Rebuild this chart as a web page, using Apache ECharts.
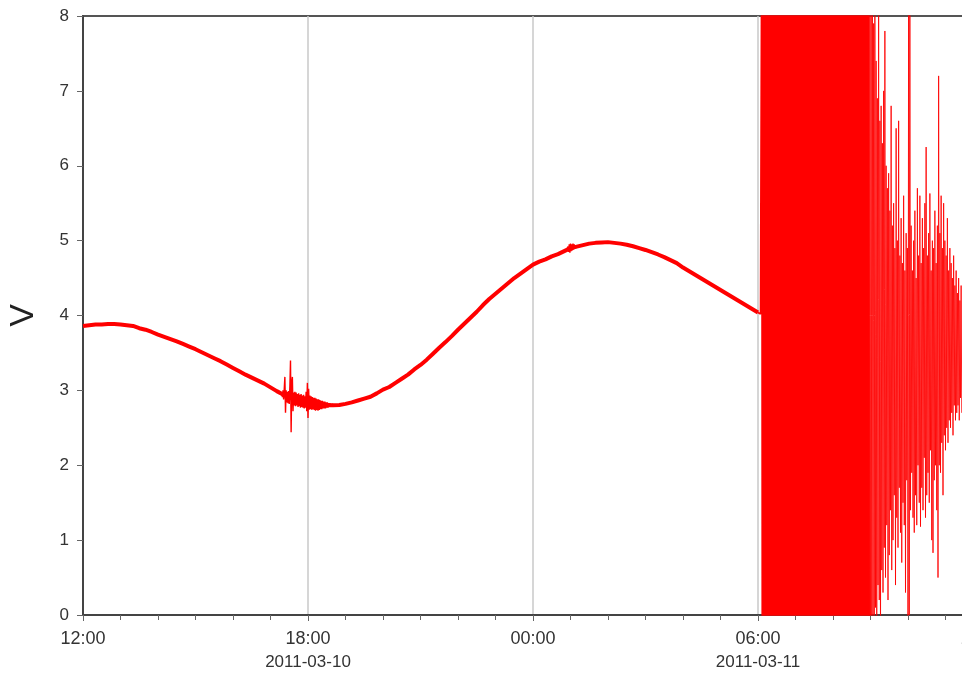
<!DOCTYPE html>
<html>
<head>
<meta charset="utf-8">
<script src="https://cdn.jsdelivr.net/npm/echarts@6/dist/echarts.min.js"></script>
<style>
html,body{margin:0;padding:0;background:#fff;}
#chart{width:962px;height:675px;}
</style>
</head>
<body>
<div id="chart"></div>
<script>
// x values are minutes since 2011-03-10 12:00
const tickTimes = ['12:00', '18:00', '00:00', '06:00', '12:00'];
const tickDates = ['', '2011-03-10', '', '2011-03-11', ''];

// slow (tidal-like) signal, one value every 10 minutes from 12:00
const smoothStart = 0, smoothStep = 10;
const smoothValues = [
  3.86, 3.87, 3.88, 3.88, 3.885, 3.885, 3.88, 3.87, 3.86, 3.83,
  3.81, 3.78, 3.745, 3.715, 3.685, 3.655, 3.62, 3.585, 3.55, 3.51,
  3.47, 3.43, 3.39, 3.345, 3.30, 3.255, 3.21, 3.17, 3.13, 3.09,
  3.04, 2.99, 2.945, 2.90, 2.885, 2.865, 2.85, 2.83, 2.815, 2.80,
  2.80, 2.805, 2.82, 2.84, 2.865, 2.89, 2.915, 2.96, 3.01, 3.045,
  3.10, 3.155, 3.21, 3.28, 3.34, 3.41, 3.49, 3.57, 3.645, 3.725,
  3.81, 3.89, 3.97, 4.05, 4.14, 4.22, 4.29, 4.36, 4.43, 4.50,
  4.56, 4.62, 4.68, 4.72, 4.75, 4.79, 4.82, 4.86, 4.90, 4.92,
  4.94, 4.96, 4.97, 4.975, 4.98, 4.97, 4.96, 4.945, 4.925, 4.90,
  4.875, 4.845, 4.815, 4.78, 4.74, 4.70, 4.64, 4.59, 4.54, 4.49,
  4.44, 4.39, 4.34, 4.29, 4.24, 4.19, 4.14, 4.09, 4.04
];

// noisy burst around 17:30-18:40, one value per minute
const burstStart = 318, burstStep = 1;
const burstValues = [
  2.98, 2.91, 3.00, 2.88, 3.02, 3.18, 2.70, 3.00, 2.84, 2.98,
  2.83, 2.99, 2.82, 3.05, 3.40, 2.44, 3.10, 3.18, 2.72, 2.97,
  2.80, 2.98, 2.79, 2.97, 2.80, 2.95, 2.78, 2.96, 2.79, 2.94,
  2.77, 2.95, 2.78, 2.93, 2.77, 2.94, 2.76, 2.92, 2.77, 2.98,
  2.72, 3.10, 2.63, 3.02, 2.74, 2.93, 2.75, 2.92, 2.74, 2.91,
  2.75, 2.90, 2.74, 2.90, 2.73, 2.89, 2.74, 2.88, 2.73, 2.88,
  2.74, 2.87, 2.75, 2.86, 2.75, 2.86, 2.76, 2.85, 2.76, 2.85,
  2.76, 2.84, 2.77, 2.84, 2.77, 2.83, 2.78, 2.83, 2.78, 2.82,
  2.79, 2.82, 2.80
];

// small noise blob near 01:00
const blobStart = 774, blobStep = 1;
const blobValues = [
  4.88, 4.86, 4.92, 4.85, 4.95, 4.84, 4.96, 4.86, 4.95, 4.87,
  4.96, 4.88, 4.95, 4.89, 4.94, 4.90, 4.94, 4.91, 4.93, 4.92,
  4.93, 4.93, 4.93
];

// earthquake record from 06:00, one value per minute (dense part)
const quakeStart = 1080, quakeStep = 1;
const quakeValues = [
  4.04, 4.035, 4.03, 4.025, 4.02, 4.00,
  9.5, -3.2, 11.8, -4.5, 12.6, -2.8, 10.1, -5.2, 12.2, -1.1,
  13.5, -4.8, 9.9, -3.6, 14.0, -0.5, 12.4, -4.2, 8.3, -3.9,
  12.8, -5.0, 10.7, -1.4, 12.1, -3.7, 13.0, -4.9, 9.6, -4.0,
  13.4, -2.3, 12.3, -3.5, 10.8, -4.6, 12.7, -0.9, 13.2, -5.1,
  11.5, -3.9, 13.6, -1.7, 12.0, -3.4, 12.9, -4.2, 12.4, 12.8,
  -4.3, 13.0, -2.8, 9.2, -3.6, 13.5, -5.0, 12.6, -1.4, 13.9,
  -3.8, 10.3, -4.9, 13.2, -2.0, 12.7, -5.4, 9.4, -3.7, 12.1,
  -4.6, 13.6, -1.2, 12.8, -5.1, 10.0, -3.5, 13.3, -4.7, 8.5,
  -3.9, 13.8, -5.2, 11.4, -0.1, 13.0, -3.6, 12.2, -4.8, 10.5,
  -4.3, 12.6, -2.0, 13.1, -3.8, 9.9, -4.5, 13.7, -1.0, 12.3,
  -5.3, 11.2, -3.7, 12.5, -4.6, 9.4, -4.2, 12.0, -2.1, 12.8,
  -3.9, 13.6, -0.4, 12.7, -3.5, 11.0, -4.9, 12.2, -1.1, 13.3,
  -4.6, 9.4, -3.8, 13.5, -5.0, 12.1, -1.3, 12.9, -3.6, 10.1,
  -4.7, 12.6, -4.0, 8.8, -5.2, 12.3, -2.7, 12.8, -4.5, 10.0,
  -3.9, 12.2, -0.8, 13.4, -4.1, 10.5, -3.4, 11.6, -1.8, 12.1,
  -3.2, 9.4, -3.6, 12.0, -0.9, 11.2, -3.3, 8.8, -2.7, 11.5,
  -2.5, 10.6, -0.9, 10.9, -2.2, 9.2, -2.4, 9.8, -0.9, 10.1,
  -1.6, 9.4, -1.3
];

// decaying tail after ~08:40, one value per minute
const tailStart = 1258, tailStep = 1;
const tailValues = [
  -1.3,
  9.2, -1.0, 8.6, -0.6, 8.3, -0.2, 7.9, -0.8, 8.4, 0.1,
  7.4, -0.3, 6.9, 0.4, 8.2, 0.2, 6.6, -0.5, 6.8, 0.6,
  6.3, 0.3, 7.0, 0.9, 7.8, 0.5, 6.0, 1.2, 5.7, 0.2,
  5.9, 0.8, 5.4, 1.4, 6.8, 0.6, 5.2, 1.0, 5.5, 1.6,
  4.9, 0.4, 6.5, 1.3, 5.0, 0.9, 6.6, 1.7, 4.8, 1.1,
  5.3, 0.7, 4.7, 1.5, 5.6, 1.2, 4.6, 0.3, 5.1, 1.8,
  4.9, -0.5, 8.8, 0.0, 8.5, 1.4, 5.2, 1.9, 4.6, 1.3,
  5.0, 1.1, 5.4, 1.6, 4.5, 1.2, 5.7, 2.0, 4.8, 1.5,
  5.6, 1.18, 4.7, 1.7, 5.3, 1.4, 4.9, 2.1, 5.5, 1.3,
  6.25, 1.6, 4.8, 1.9, 5.1, 1.5, 5.63, 2.2, 4.6, 1.0,
  5.0, 0.83, 4.9, 1.8, 5.4, 2.0, 4.7, 1.4, 5.2, 0.5,
  7.2, 2.0, 5.1, 1.9, 5.6, 2.3, 4.9, 1.6, 5.5, 2.4,
  5.0, 2.2, 4.8, 2.5, 5.3, 2.3, 4.6, 2.6, 4.9, 2.5,
  4.7, 2.7, 4.5, 2.4, 4.8, 2.8, 4.4, 2.6, 4.6, 2.7,
  4.3, 2.8, 4.5, 2.6, 4.2, 2.9, 4.4, 2.7
];

const yTicks = [0, 8, 1]; // min, max, interval
const xRange = [0, 1440, 360];

function toPairs(start, step, vals) {
  return vals.map((v, i) => [start + i * step, v]);
}

const FONT = '"Liberation Sans", Arial, Helvetica, sans-serif';
const RED = '#ff0000';

const chart = echarts.init(document.getElementById('chart'), null, {renderer: 'canvas'});
chart.setOption({
  animation: false,
  backgroundColor: '#ffffff',
  grid: {
    left: 83, right: -21, top: 16, bottom: 60,
    containLabel: false, outerBoundsMode: 'none',
    show: true, borderColor: '#555', borderWidth: 2, backgroundColor: 'transparent'
  },
  xAxis: {
    type: 'value',
    min: xRange[0], max: xRange[1], interval: xRange[2],
    axisLine: {show: true, onZero: false, lineStyle: {color: '#444', width: 2}},
    axisTick: {show: true, length: 6, lineStyle: {color: '#666', width: 1}},
    minorTick: {show: true, splitNumber: 6, length: 5, lineStyle: {color: '#666', width: 1}},
    splitLine: {show: true, lineStyle: {color: '#c8c8c8', width: 1.5}},
    axisLabel: {
      show: true, margin: 13, showMinLabel: true, showMaxLabel: true,
      hideOverlap: false, alignMaxLabel: 'center', alignMinLabel: 'center',
      formatter: function (v) {
        const i = Math.round(v / xRange[2]);
        const t = tickTimes[i] || '';
        const d = tickDates[i] || '';
        return d ? '{t|' + t + '}\n{d|' + d + '}' : '{t|' + t + '}';
      },
      rich: {
        t: {fontSize: 18, lineHeight: 22, color: '#333', fontFamily: FONT},
        d: {fontSize: 17, lineHeight: 24, color: '#333', fontFamily: FONT}
      }
    }
  },
  yAxis: {
    type: 'value',
    min: yTicks[0], max: yTicks[1], interval: yTicks[2],
    name: 'V', nameLocation: 'middle', nameRotate: 90, nameGap: 42,
    nameTextStyle: {fontSize: 34, color: '#222', fontFamily: FONT},
    axisLine: {show: true, lineStyle: {color: '#444', width: 2}},
    axisTick: {show: true, length: 6, lineStyle: {color: '#666', width: 1}},
    splitLine: {show: false},
    axisLabel: {fontSize: 17, color: '#333', margin: 14, fontFamily: FONT}
  },
  series: [
    {
      type: 'line', name: 'slow', showSymbol: false, symbol: 'none', clip: true,
      data: toPairs(smoothStart, smoothStep, smoothValues),
      lineStyle: {color: RED, width: 4}
    },
    {
      type: 'line', name: 'burst', showSymbol: false, symbol: 'none', clip: true,
      data: toPairs(burstStart, burstStep, burstValues),
      lineStyle: {color: RED, width: 1.4}
    },
    {
      type: 'line', name: 'blob', showSymbol: false, symbol: 'none', clip: true,
      data: toPairs(blobStart, blobStep, blobValues),
      lineStyle: {color: RED, width: 1.4}
    },
    {
      type: 'line', name: 'quake', showSymbol: false, symbol: 'none', clip: true,
      sampling: null, progressive: 0,
      data: toPairs(quakeStart, quakeStep, quakeValues),
      lineStyle: {color: RED, width: 1.6}
    },
    {
      type: 'line', name: 'tail', showSymbol: false, symbol: 'none', clip: true,
      sampling: null, progressive: 0,
      data: toPairs(tailStart, tailStep, tailValues),
      lineStyle: {color: RED, width: 1, opacity: 0.85}
    }
  ]
});
</script>
</body>
</html>
